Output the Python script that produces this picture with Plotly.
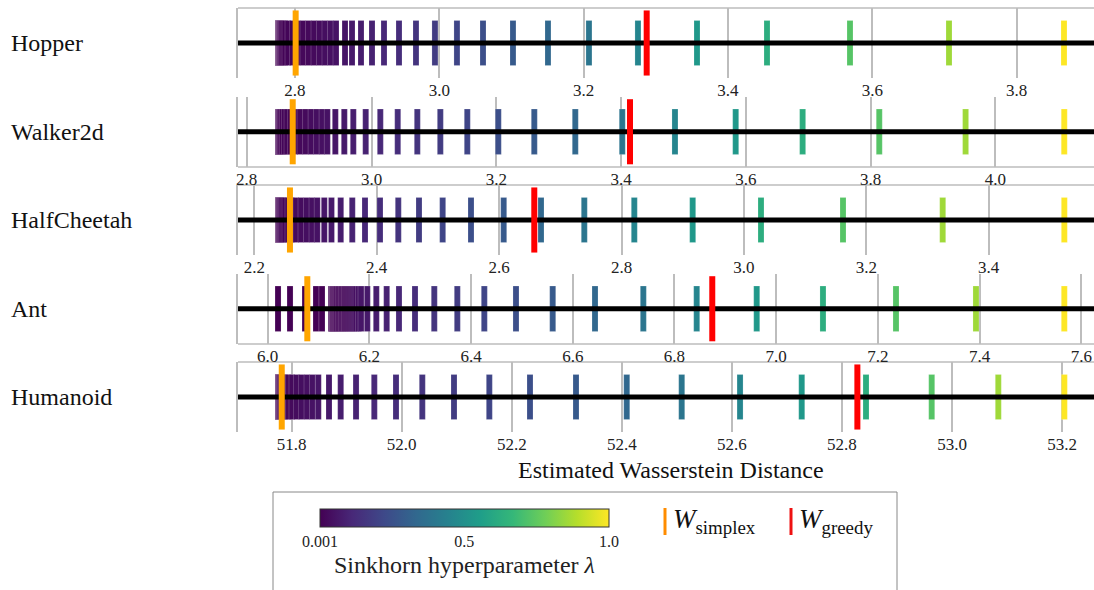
import plotly.graph_objects as go

# ---------------- data ----------------
envs = ["Hopper", "Walker2d", "HalfCheetah", "Ant", "Humanoid"]

lambdas = [0.001, 0.00117, 0.001369, 0.001602, 0.001874, 0.002192, 0.002565, 0.003001,
           0.003511, 0.004108, 0.004806, 0.005623, 0.006579, 0.007698, 0.009006, 0.01054,
           0.01233, 0.01442, 0.01688, 0.01975, 0.0231, 0.02703, 0.03162, 0.037, 0.04329,
           0.05065, 0.05926, 0.06933, 0.08111, 0.0949, 0.111, 0.1299, 0.152, 0.1778,
           0.2081, 0.2434, 0.2848, 0.3332, 0.3899, 0.4561, 0.5337, 0.6244, 0.7305, 0.8547, 1.0]

hopper_w = [2.7765, 2.7766, 2.7766, 2.7768, 2.7769, 2.7771, 2.7773, 2.7776, 2.7779, 2.7782,
            2.7786, 2.7793, 2.7800, 2.7814, 2.7834, 2.7862, 2.7904, 2.7966, 2.8035, 2.8112,
            2.8188, 2.8264, 2.8340, 2.8416, 2.8493, 2.8569, 2.8694, 2.8791, 2.8915, 2.9068,
            2.9234, 2.9442, 2.9677, 2.9940, 3.0245, 3.0606, 3.1021, 3.1506, 3.2074, 3.2753,
            3.3571, 3.4541, 3.5691, 3.7063, 3.8656]
walker_w = [2.8502, 2.8502, 2.8503, 2.8503, 2.8503, 2.8504, 2.8504, 2.8506, 2.8508, 2.8510,
            2.8513, 2.8518, 2.8524, 2.8534, 2.8550, 2.8574, 2.8606, 2.8646, 2.8702, 2.8774,
            2.8855, 2.8943, 2.9031, 2.9119, 2.9207, 2.9292, 2.9420, 2.9564, 2.9708, 2.9907,
            3.0141, 3.0420, 3.0734, 3.1103, 3.1535, 3.2032, 3.2609, 3.3266, 3.4019, 3.4864,
            3.5837, 3.6910, 3.8138, 3.9522, 4.1103]
cheetah_w = [2.2387, 2.2387, 2.2387, 2.2387, 2.2388, 2.2388, 2.2389, 2.2390, 2.2392, 2.2394,
             2.2397, 2.2400, 2.2403, 2.2408, 2.2416, 2.2428, 2.2444, 2.2469, 2.2501, 2.2550,
             2.2608, 2.2681, 2.2763, 2.2853, 2.2943, 2.3029, 2.3144, 2.3261, 2.3412, 2.3601,
             2.3809, 2.4054, 2.4353, 2.4691, 2.5078, 2.5541, 2.6075, 2.6685, 2.7392, 2.8209,
             2.9163, 3.0279, 3.1619, 3.3248, 3.5235]
ant_w = [6.0203, 6.0439, 6.0734, 6.0950, 6.1068, 6.1245, 6.1255, 6.1265, 6.1274, 6.1284,
         6.1304, 6.1324, 6.1343, 6.1363, 6.1392, 6.1422, 6.1451, 6.1481, 6.1510, 6.1540,
         6.1579, 6.1618, 6.1658, 6.1697, 6.1736, 6.1786, 6.1835, 6.1959, 6.2136, 6.2340,
         6.2582, 6.2897, 6.3276, 6.3729, 6.4260, 6.4883, 6.5605, 6.6437, 6.7387, 6.8437,
         6.9617, 7.0920, 7.2356, 7.3929, 7.5666]
humanoid_w = [51.7752, 51.7752, 51.7752, 51.7753, 51.7753, 51.7753, 51.7754, 51.7755, 51.7757,
              51.7758, 51.7761, 51.7765, 51.7768, 51.7774, 51.7781, 51.7792, 51.7807, 51.7825,
              51.7852, 51.7888, 51.7943, 51.8006, 51.8088, 51.8179, 51.8279, 51.8379, 51.8484,
              51.8679, 51.8891, 51.9170, 51.9502, 51.9896, 52.0374, 52.0950, 52.1592, 52.2331,
              52.3167, 52.4089, 52.5088, 52.6148, 52.7269, 52.8437, 52.9631, 53.0841, 53.2041]

sinkhorn_w = [hopper_w, walker_w, cheetah_w, ant_w, humanoid_w]
w_simplex = [2.801, 2.8737, 2.2583, 6.0779, 51.782]
w_greedy = [3.2874, 3.4143, 2.6575, 6.8743, 52.828]

x_ranges = [[2.7211, 3.9072], [2.786, 4.158], [2.1734, 3.572], [5.9416, 7.625], [51.7025, 53.258]]

# ---------------- layout helpers ----------------
FONT = "Liberation Serif"
W_PX, H_PX = 1094, 590
ML, MR, MT, MB = 238, 0, 8, 158
PLOT_W = W_PX - ML - MR
PLOT_H = H_PX - MT - MB
GRAY = "#bdbdbd"
row_px = [(8, 78), (96.5, 167), (185, 255), (273.5, 344), (362, 432)]
box_edge = ["top", "bottom", "top", "bottom", "top"]


def fy(px):
    return (H_PX - MB - px) / PLOT_H


def fx(px):
    return (px - ML) / PLOT_W


fig = go.Figure()
layout = {}
shapes = []
annotations = []

for i, env in enumerate(envs):
    n = "" if i == 0 else str(i + 1)
    xa, ya = "x" + n, "y" + n
    rng = x_ranges[i]
    top, bot = row_px[i]
    layout["xaxis" + n] = dict(domain=[0, 1], range=rng, anchor=ya, dtick=0.2, tick0=0,
                               tickformat=".1f", showgrid=True, gridcolor=GRAY, gridwidth=1.5,
                               zeroline=False, showline=False, ticks="",
                               tickfont=dict(size=17, color="#222"), fixedrange=True)
    layout["yaxis" + n] = dict(domain=[fy(bot), fy(top)], range=[-1, 1], anchor=xa,
                               showgrid=False, zeroline=False, showticklabels=False,
                               showline=True, linecolor=GRAY, linewidth=1.5, fixedrange=True)

    bar_w = 6 * (rng[1] - rng[0]) / PLOT_W
    marker = dict(color=lambdas, colorscale="Viridis", cmin=0.001, cmax=1.0,
                  line=dict(color="rgba(255,255,255,0.18)", width=1))
    if i == 0:
        marker["showscale"] = True
        marker["colorbar"] = dict(
            orientation="h", x=fx(464.5), xanchor="center", y=fy(509), yanchor="top",
            len=289, lenmode="pixels", thickness=18, thicknessmode="pixels",
            xpad=0, ypad=0, outlinecolor="#333", outlinewidth=1,
            tickvals=[0.001, 0.5, 1.0], ticktext=["0.001", "0.5", "1.0"], ticks="",
            tickfont=dict(size=16, color="#222"),
            title=dict(text="Sinkhorn hyperparameter <i>λ</i>", side="bottom",
                       font=dict(size=24, color="#222")))
    else:
        marker["showscale"] = False
    fig.add_trace(go.Bar(x=sinkhorn_w[i], y=[1.286] * len(lambdas), base=-0.643, width=bar_w,
                         marker=marker, xaxis=xa, yaxis=ya, showlegend=False,
                         hoverinfo="skip"))
    fig.add_trace(go.Scatter(x=rng, y=[0, 0], mode="lines", line=dict(color="black", width=5),
                             xaxis=xa, yaxis=ya, showlegend=False, hoverinfo="skip"))
    fig.add_trace(go.Scatter(x=[w_simplex[i]], y=[0], mode="markers", cliponaxis=False,
                             marker=dict(symbol="line-ns", size=46.5,
                                         line=dict(color="#ffa500", width=6)),
                             xaxis=xa, yaxis=ya, showlegend=False))
    fig.add_trace(go.Scatter(x=[w_greedy[i]], y=[0], mode="markers", cliponaxis=False,
                             marker=dict(symbol="line-ns", size=46.5,
                                         line=dict(color="#ff0000", width=6)),
                             xaxis=xa, yaxis=ya, showlegend=False))

    edge_y = fy(top) if box_edge[i] == "top" else fy(bot)
    shapes.append(dict(type="line", xref="paper", yref="paper", x0=0, x1=1.01,
                       y0=edge_y, y1=edge_y, line=dict(color=GRAY, width=1.5), layer="below"))
    annotations.append(dict(text=env, xref="paper", yref="paper", x=fx(9), y=fy((top + bot) / 2),
                            xanchor="left", yanchor="middle", showarrow=False,
                            font=dict(size=24, color="#111")))

annotations.append(dict(text="Estimated Wasserstein Distance", xref="paper", yref="paper",
                        x=fx(671), y=fy(470), xanchor="center", yanchor="middle",
                        showarrow=False, font=dict(size=24, color="#111")))

# legend box
shapes.append(dict(type="rect", xref="paper", yref="paper", x0=fx(273), x1=fx(897),
                   y0=fy(492), y1=fy(640), line=dict(color="#888888", width=1),
                   fillcolor="rgba(0,0,0,0)"))
shapes.append(dict(type="line", xref="paper", yref="paper", x0=fx(665), x1=fx(665),
                   y0=fy(508), y1=fy(535), line=dict(color="#ff8c00", width=3)))
shapes.append(dict(type="line", xref="paper", yref="paper", x0=fx(791), x1=fx(791),
                   y0=fy(508), y1=fy(535), line=dict(color="#ee1111", width=3)))
annotations.append(dict(text="<i>W</i><sub>simplex</sub>", xref="paper", yref="paper",
                        x=fx(671), y=fy(521), xanchor="left", yanchor="middle",
                        showarrow=False, font=dict(size=27, color="#111")))
annotations.append(dict(text="<i>W</i><sub>greedy</sub>", xref="paper", yref="paper",
                        x=fx(797), y=fy(521), xanchor="left", yanchor="middle",
                        showarrow=False, font=dict(size=27, color="#111")))

fig.update_layout(
    width=W_PX, height=H_PX,
    margin=dict(l=ML, r=MR, t=MT, b=MB, pad=0),
    paper_bgcolor="white", plot_bgcolor="white",
    font=dict(family=FONT, color="#111"),
    barmode="overlay", showlegend=False,
    shapes=shapes, annotations=annotations,
    **layout,
)

fig.write_html("out.html", config={"displayModeBar": False},
               post_script="document.body.style.margin='0px';")
